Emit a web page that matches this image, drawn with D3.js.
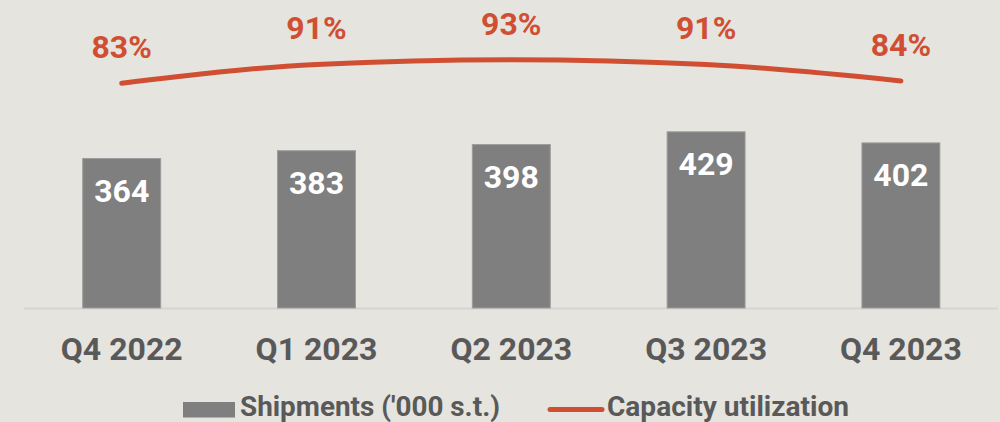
<!DOCTYPE html>
<html>
<head>
<meta charset="utf-8">
<script src="https://cdn.jsdelivr.net/npm/d3@7"></script>
<style>
  body { margin: 0; background: #e5e4df; }
  svg { display: block; font-family: Roboto, "Noto Sans", sans-serif; font-weight: bold; }
</style>
</head>
<body>
<svg width="1000" height="422"></svg>
<script>
// chart data
var quarters = ["Q4 2022", "Q1 2023", "Q2 2023", "Q3 2023", "Q4 2023"];
var shipments = [364, 383, 398, 429, 402];
var utilization = [83, 91, 93, 91, 84];

var svg = d3.select("svg"), width = +svg.attr("width"), height = +svg.attr("height");
var red = "#d04f33", grey = "#7f7f7f", textGrey = "#595959";

svg.append("rect").attr("width", width).attr("height", height).attr("fill", "#e5e4df");

var x = d3.scaleBand().domain(quarters).range([24.3, 998.3]).paddingInner(0.6).paddingOuter(0.3);
var y = d3.scaleLinear().domain([0, 750]).range([308, 0]);
var y2 = d3.scaleLinear().domain([0, 100]).range([278.3, 43.3]);

// baseline
svg.append("line")
  .attr("x1", 24).attr("x2", 998)
  .attr("y1", y(0) + 0.5).attr("y2", y(0) + 0.5)
  .attr("stroke", "#d6d5d1").attr("stroke-width", 2);

// bars
svg.append("g").selectAll("rect")
  .data(shipments)
  .enter().append("rect")
  .attr("x", function(d, i) { return x(quarters[i]); })
  .attr("y", function(d) { return y(d); })
  .attr("width", x.bandwidth())
  .attr("height", function(d) { return y(0) - y(d); })
  .attr("fill", grey)
  .attr("stroke", "#9c9c9c")
  .attr("stroke-width", 1);

svg.append("g").selectAll("text")
  .data(shipments)
  .enter().append("text")
  .attr("x", function(d, i) { return x(quarters[i]) + x.bandwidth() / 2; })
  .attr("y", function(d) { return y(d) + 43; })
  .attr("text-anchor", "middle")
  .attr("fill", "#fff")
  .style("font-size", "32px")
  .text(function(d) { return d; });

// x axis labels
var xAxis = svg.append("g")
  .attr("transform", "translate(0," + y(0) + ")")
  .call(d3.axisBottom(x).tickSize(0).tickPadding(0));
xAxis.select(".domain").remove();
xAxis.selectAll("text")
  .attr("y", 52).attr("dy", 0)
  .attr("fill", textGrey)
  .style("font-size", "32px")
  .style("font-family", "Roboto, sans-serif")
  .style("font-weight", "bold");

// capacity line (smoothed like the original)
var line = d3.line()
  .x(function(d, i) { return x(quarters[i]) + x.bandwidth() / 2; })
  .y(function(d) { return y2(d); })
  .curve(d3.curveMonotoneX);

svg.append("path")
  .datum(utilization)
  .attr("d", line)
  .attr("fill", "none")
  .attr("stroke", red)
  .attr("stroke-width", 5)
  .attr("stroke-linecap", "round");

svg.append("g").selectAll("text")
  .data(utilization)
  .enter().append("text")
  .attr("x", function(d, i) { return x(quarters[i]) + x.bandwidth() / 2; })
  .attr("y", function(d) { return y2(d) - 25; })
  .attr("text-anchor", "middle")
  .attr("fill", red)
  .style("font-size", "32px")
  .text(function(d) { return d + "%"; });

// legend
var legend = svg.append("g");
legend.append("rect")
  .attr("x", 183).attr("y", 402).attr("width", 52).attr("height", 15.5)
  .attr("fill", grey);
legend.append("text")
  .attr("x", 240).attr("y", 416)
  .attr("fill", textGrey)
  .style("font-size", "27px")
  .attr("textLength", 260).attr("lengthAdjust", "spacingAndGlyphs")
  .text("Shipments ('000 s.t.)");
legend.append("line")
  .attr("x1", 550).attr("x2", 602).attr("y1", 409.5).attr("y2", 409.5)
  .attr("stroke", red).attr("stroke-width", 5).attr("stroke-linecap", "round");
legend.append("text")
  .attr("x", 607).attr("y", 416)
  .attr("fill", textGrey)
  .style("font-size", "27px")
  .attr("textLength", 242).attr("lengthAdjust", "spacingAndGlyphs")
  .text("Capacity utilization");
</script>
</body>
</html>
